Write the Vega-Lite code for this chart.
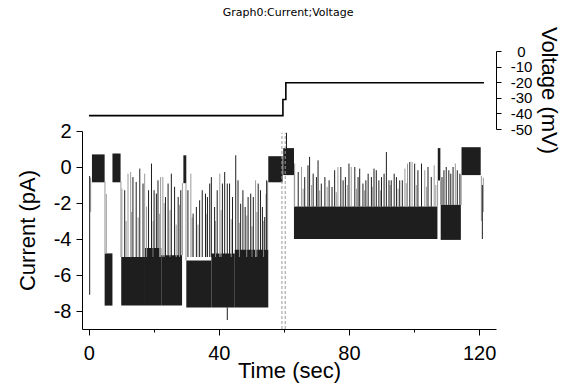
{
  "$schema": "https://vega.github.io/schema/vega-lite/v6.json",
  "padding": {"left": 16, "top": 7, "right": 5, "bottom": 2},
  "background": "white",
  "title": {"text": "Graph0:Current;Voltage", "fontSize": 11, "font": "DejaVu Sans", "fontWeight": "normal", "color": "#000", "offset": 8, "anchor": "middle"},
  "config": {
    "view": {"stroke": null},
    "font": "Liberation Sans",
    "axis": {"domainColor": "#000", "tickColor": "#000", "labelColor": "#000", "titleColor": "#000", "grid": false, "labelFont": "Liberation Sans", "titleFont": "Liberation Sans", "titleFontWeight": "normal", "labelOverlap": false, "labelSeparation": -40, "labelFlush": false},
    "axisY": {"labelOverlap": false, "labelSeparation": -40}
  },
  "datasets": {
    "volt": [
      {"i": 0, "t": 0.1, "v": -41.4},
      {"i": 1, "t": 59.7, "v": -41.4},
      {"i": 2, "t": 59.7, "v": -31.1},
      {"i": 3, "t": 60.6, "v": -31.1},
      {"i": 4, "t": 60.6, "v": -20.4},
      {"i": 5, "t": 121.5, "v": -20.4}
    ],
    "band": [
      {"t0": 4.9, "t1": 7.3, "lo": -7.7, "hi": -4.8},
      {"t0": 10.0, "t1": 17.3, "lo": -7.7, "hi": -5.0},
      {"t0": 17.3, "t1": 22.3, "lo": -7.7, "hi": -4.5},
      {"t0": 22.3, "t1": 28.7, "lo": -7.7, "hi": -4.9},
      {"t0": 30.0, "t1": 37.7, "lo": -7.8, "hi": -5.2},
      {"t0": 37.7, "t1": 44.9, "lo": -7.8, "hi": -4.8},
      {"t0": 44.9, "t1": 55.2, "lo": -7.8, "hi": -4.6},
      {"t0": 63.1, "t1": 107.2, "lo": -4.0, "hi": -2.2},
      {"t0": 108.2, "t1": 114.4, "lo": -4.05, "hi": -2.1},
      {"t0": 1.0, "t1": 4.9, "lo": -0.85, "hi": 0.7},
      {"t0": 7.3, "t1": 9.8, "lo": -0.85, "hi": 0.75},
      {"t0": 29.1, "t1": 30.0, "lo": -0.9, "hi": 0.65},
      {"t0": 55.2, "t1": 59.6, "lo": -0.85, "hi": 0.6},
      {"t0": 59.8, "t1": 63.1, "lo": -0.45, "hi": 1.05},
      {"t0": 107.3, "t1": 108.1, "lo": -0.75, "hi": 1.05},
      {"t0": 114.6, "t1": 120.5, "lo": -0.45, "hi": 1.1}
    ],
    "dark": [
      {"t": 0.3, "lo": -7.1, "hi": -0.5},
      {"t": 121.0, "lo": -4.0, "hi": -1.0},
      {"t": 60.8, "lo": 0.5, "hi": 1.9},
      {"t": 11.07, "lo": -5, "hi": -1.29}, {"t": 13.6, "lo": -5, "hi": -0.56}, {"t": 14.6, "lo": -5, "hi": -0.83},
      {"t": 15.7, "lo": -5, "hi": -0.09}, {"t": 16.7, "lo": -5, "hi": -0.92}, {"t": 18.4, "lo": -5, "hi": -1.29},
      {"t": 19.3, "lo": -5, "hi": 0.19}, {"t": 20.1, "lo": -5, "hi": -1.29}, {"t": 20.8, "lo": -5, "hi": -1.48},
      {"t": 21.3, "lo": -5, "hi": -0.74}, {"t": 23.6, "lo": -5, "hi": -1.67}, {"t": 24.4, "lo": -5, "hi": -0.92},
      {"t": 25.4, "lo": -5, "hi": -0.37}, {"t": 26.4, "lo": -5, "hi": -1.1}, {"t": 27.5, "lo": -5, "hi": -1.67},
      {"t": 28.3, "lo": -5, "hi": -1.29},
      {"t": 30.5, "lo": -5, "hi": -1.29}, {"t": 32.1, "lo": -5, "hi": -2.59}, {"t": 33.1, "lo": -5, "hi": -2.22},
      {"t": 34.1, "lo": -5, "hi": -1.85}, {"t": 34.9, "lo": -5, "hi": -1.29}, {"t": 35.9, "lo": -5, "hi": -1.48},
      {"t": 36.5, "lo": -5, "hi": -1.67}, {"t": 37.2, "lo": -5, "hi": -0.92}, {"t": 37.7, "lo": -5, "hi": -0.56},
      {"t": 38.7, "lo": -5, "hi": -2.22}, {"t": 39.5, "lo": -5, "hi": -1.29}, {"t": 41.1, "lo": -5, "hi": -0.92},
      {"t": 41.8, "lo": -5, "hi": -0.28}, {"t": 42.6, "lo": -5, "hi": -0.92}, {"t": 43.3, "lo": -5, "hi": -0.92},
      {"t": 44.2, "lo": -5, "hi": -1.67}, {"t": 45.2, "lo": -5, "hi": 0.65}, {"t": 45.9, "lo": -5, "hi": -0.74},
      {"t": 46.7, "lo": -5, "hi": -2.04}, {"t": 47.4, "lo": -5, "hi": -1.29}, {"t": 48.1, "lo": -5, "hi": -2.22},
      {"t": 49.0, "lo": -5, "hi": -1.67}, {"t": 49.8, "lo": -5, "hi": -1.48}, {"t": 50.6, "lo": -5, "hi": -1.67},
      {"t": 52.1, "lo": -5, "hi": -0.92}, {"t": 52.8, "lo": -5, "hi": -1.29}, {"t": 53.4, "lo": -5, "hi": -2.22},
      {"t": 54.1, "lo": -5, "hi": -2.78}, {"t": 54.7, "lo": -5, "hi": -0.74},
      {"t": 42.6, "lo": -8.5, "hi": -7.8},
      {"t": 64.4, "lo": -2.2, "hi": -0.28}, {"t": 66.4, "lo": -2.2, "hi": -0.56}, {"t": 67.4, "lo": -2.2, "hi": 0.09},
      {"t": 67.9, "lo": -2.2, "hi": 0.56}, {"t": 69.0, "lo": -2.2, "hi": -0.37}, {"t": 70.0, "lo": -2.2, "hi": -0.56},
      {"t": 70.5, "lo": -2.2, "hi": 0.37}, {"t": 71.5, "lo": -2.2, "hi": -0.92}, {"t": 72.6, "lo": -2.2, "hi": -0.56},
      {"t": 73.9, "lo": -2.2, "hi": -0.74}, {"t": 74.8, "lo": -2.2, "hi": -1.11}, {"t": 75.6, "lo": -2.2, "hi": -0.18},
      {"t": 77.5, "lo": -2.2, "hi": 0.0}, {"t": 78.2, "lo": -2.2, "hi": -0.74}, {"t": 78.9, "lo": -2.2, "hi": -0.56},
      {"t": 80.0, "lo": -2.2, "hi": 0.19}, {"t": 81.8, "lo": -2.2, "hi": 0.0}, {"t": 82.8, "lo": -2.2, "hi": -0.56},
      {"t": 83.3, "lo": -2.2, "hi": -0.09}, {"t": 84.3, "lo": -2.2, "hi": -0.92}, {"t": 85.2, "lo": -2.2, "hi": -0.74},
      {"t": 85.9, "lo": -2.2, "hi": -0.37}, {"t": 86.9, "lo": -2.2, "hi": -0.56}, {"t": 87.7, "lo": -2.2, "hi": -0.09},
      {"t": 88.4, "lo": -2.2, "hi": -0.18}, {"t": 89.2, "lo": -2.2, "hi": -0.74}, {"t": 90.0, "lo": -2.2, "hi": -0.56},
      {"t": 90.8, "lo": -2.2, "hi": -0.37}, {"t": 91.5, "lo": -2.2, "hi": 0.83}, {"t": 92.3, "lo": -2.2, "hi": -0.74},
      {"t": 93.0, "lo": -2.2, "hi": -0.74}, {"t": 93.9, "lo": -2.2, "hi": -0.37}, {"t": 94.6, "lo": -2.2, "hi": -0.56},
      {"t": 95.6, "lo": -2.2, "hi": -0.74}, {"t": 96.4, "lo": -2.2, "hi": -0.74}, {"t": 98.7, "lo": -2.2, "hi": 0.28},
      {"t": 100.2, "lo": -2.2, "hi": 0.19}, {"t": 101.2, "lo": -2.2, "hi": -0.18}, {"t": 102.3, "lo": -2.2, "hi": 0.19},
      {"t": 104.3, "lo": -2.2, "hi": 0.0}, {"t": 105.3, "lo": -2.2, "hi": -0.56},
      {"t": 108.6, "lo": -2.1, "hi": -0.56}, {"t": 109.2, "lo": -2.1, "hi": -0.18}, {"t": 109.9, "lo": -2.1, "hi": 0.0},
      {"t": 110.7, "lo": -2.1, "hi": -0.18}, {"t": 111.3, "lo": -2.1, "hi": -0.37}, {"t": 112.0, "lo": -2.1, "hi": 0.0},
      {"t": 113.3, "lo": -2.1, "hi": -0.18}, {"t": 114.1, "lo": -2.1, "hi": -0.37}
    ],
    "light": [
      {"t": 0.6, "lo": -2.5, "hi": -0.6}, {"t": 5.0, "lo": -4.8, "hi": -0.8}, {"t": 5.4, "lo": -4.8, "hi": -1.5},
      {"t": 9.9, "lo": -5.0, "hi": -0.8}, {"t": 10.2, "lo": -5.0, "hi": -1.2}, {"t": 28.8, "lo": -4.9, "hi": -0.9},
      {"t": 29.9, "lo": -5.2, "hi": -0.9}, {"t": 55.0, "lo": -4.6, "hi": -0.8}, {"t": 54.5, "lo": -4.6, "hi": -1.5},
      {"t": 63.2, "lo": -2.2, "hi": -0.45}, {"t": 107.25, "lo": -2.2, "hi": -0.75}, {"t": 108.15, "lo": -2.1, "hi": -0.75},
      {"t": 114.5, "lo": -2.1, "hi": -0.45}, {"t": 120.7, "lo": -3.0, "hi": -0.5}, {"t": 121.3, "lo": -2.5, "hi": -0.6},
      {"t": 12.08, "lo": -5, "hi": -0.37}, {"t": 12.9, "lo": -5, "hi": -0.28}, {"t": 17.2, "lo": -5, "hi": -0.37},
      {"t": 22.1, "lo": -5, "hi": -0.56}, {"t": 22.8, "lo": -5, "hi": -0.56},
      {"t": 11.5, "lo": -5, "hi": -3.0}, {"t": 13.2, "lo": -5, "hi": -2.5}, {"t": 15.2, "lo": -5, "hi": -2.8},
      {"t": 17.8, "lo": -5, "hi": -2.2}, {"t": 19.8, "lo": -5, "hi": -3.0}, {"t": 21.8, "lo": -5, "hi": -2.6},
      {"t": 23.2, "lo": -5, "hi": -2.0}, {"t": 25.0, "lo": -5, "hi": -2.4}, {"t": 26.9, "lo": -5, "hi": -3.2},
      {"t": 27.9, "lo": -5, "hi": -2.1},
      {"t": 31.4, "lo": -5, "hi": -0.37}, {"t": 40.3, "lo": -5, "hi": -0.37}, {"t": 51.3, "lo": -5, "hi": -0.74},
      {"t": 31.8, "lo": -5, "hi": -2.8}, {"t": 33.6, "lo": -5, "hi": -3.2}, {"t": 36.1, "lo": -5, "hi": -2.6},
      {"t": 39.0, "lo": -5, "hi": -3.0}, {"t": 40.7, "lo": -5, "hi": -2.4}, {"t": 43.8, "lo": -5, "hi": -2.9},
      {"t": 46.3, "lo": -5, "hi": -3.1}, {"t": 48.6, "lo": -5, "hi": -2.7}, {"t": 50.2, "lo": -5, "hi": -3.3},
      {"t": 51.7, "lo": -5, "hi": -2.5}, {"t": 53.8, "lo": -5, "hi": -3.0},
      {"t": 63.3, "lo": -2.2, "hi": 0.19}, {"t": 65.4, "lo": -2.2, "hi": 0.0}, {"t": 76.6, "lo": -2.2, "hi": 0.0},
      {"t": 80.7, "lo": -2.2, "hi": 0.0}, {"t": 97.2, "lo": -2.2, "hi": -0.09}, {"t": 98.0, "lo": -2.2, "hi": 0.19},
      {"t": 99.4, "lo": -2.2, "hi": 0.28}, {"t": 103.3, "lo": -2.2, "hi": -0.18}, {"t": 106.2, "lo": -2.2, "hi": 0.09},
      {"t": 65.9, "lo": -2.2, "hi": -1.2}, {"t": 68.5, "lo": -2.2, "hi": -1.0}, {"t": 71.0, "lo": -2.2, "hi": -1.3},
      {"t": 73.3, "lo": -2.2, "hi": -1.1}, {"t": 76.1, "lo": -2.2, "hi": -1.4}, {"t": 79.5, "lo": -2.2, "hi": -1.0},
      {"t": 82.3, "lo": -2.2, "hi": -1.2}, {"t": 84.8, "lo": -2.2, "hi": -1.3}, {"t": 87.2, "lo": -2.2, "hi": -1.1},
      {"t": 89.7, "lo": -2.2, "hi": -1.3}, {"t": 92.7, "lo": -2.2, "hi": -1.0}, {"t": 95.1, "lo": -2.2, "hi": -1.2},
      {"t": 97.6, "lo": -2.2, "hi": -0.9}, {"t": 100.7, "lo": -2.2, "hi": -1.0}, {"t": 103.8, "lo": -2.2, "hi": -1.1},
      {"t": 106.7, "lo": -2.2, "hi": -1.0}, {"t": 112.7, "lo": -2.1, "hi": 0.19}
    ],
    "trans": [
      {"t": 59.4, "lo": -9, "hi": 1.9},
      {"t": 60.4, "lo": -9, "hi": 1.9}
    ]
  },
  "spacing": 2,
  "bounds": "flush",
  "vconcat": [
    {
      "width": 414,
      "height": 78,
      "data": {"name": "volt"},
      "mark": {"type": "line", "color": "#000", "strokeWidth": 1.6},
      "encoding": {
        "x": {"field": "t", "type": "quantitative", "scale": {"domain": [-2.06, 125.2], "nice": false, "zero": false}, "axis": null},
        "y": {"field": "v", "type": "quantitative", "scale": {"domain": [-50, 0], "nice": false},
          "axis": {"orient": "right", "values": [0, -10, -20, -30, -40, -50], "labelExpr": "datum.value + ''", "labelOverlap": false, "tickSize": 5, "labelFontSize": 15, "labelAlign": "center", "labelPadding": 20, "title": "Voltage (mV)", "titleFontSize": 22, "titlePadding": 5}},
        "order": {"field": "i", "type": "quantitative"}
      }
    },
    {
      "width": 414,
      "height": 198,
      "layer": [
        {
          "data": {"name": "band"},
          "mark": {"type": "rect", "color": "#1e1e1e"},
          "encoding": {
            "x": {"field": "t0", "type": "quantitative", "scale": {"domain": [-2.06, 125.2], "nice": false, "zero": false},
              "axis": {"values": [0, 20, 40, 60, 80, 100, 120], "labelExpr": "datum.value % 40 === 0 ? datum.value + '' : ''", "labelOverlap": false, "tickSize": {"condition": {"test": "datum.value % 40 === 0", "value": 6}, "value": 3}, "labelFontSize": 20, "labelPadding": 8, "title": "Time (sec)", "titleFontSize": 22, "titlePadding": -3}},
            "x2": {"field": "t1"},
            "y": {"field": "lo", "type": "quantitative", "scale": {"domain": [-9, 2], "nice": false, "zero": false},
              "axis": {"values": [2, 0, -2, -4, -6, -8], "labelExpr": "datum.value + ''", "labelOverlap": false, "labelSeparation": -40, "tickSize": 6, "labelFontSize": 20, "labelPadding": 5, "title": "Current (pA)", "titleFontSize": 22, "titlePadding": 14}},
            "y2": {"field": "hi"}
          }
        },
        {
          "data": {"name": "light"},
          "mark": {"type": "rule", "color": "#9a9a9a", "strokeWidth": 1},
          "encoding": {
            "x": {"field": "t", "type": "quantitative"},
            "y": {"field": "lo", "type": "quantitative", "axis": {"values": [2, 0, -2, -4, -6, -8], "labelExpr": "datum.value + ''", "labelOverlap": false, "labelSeparation": -40, "tickSize": 6, "labelFontSize": 20, "labelPadding": 5, "title": "Current (pA)", "titleFontSize": 22, "titlePadding": 14}},
            "y2": {"field": "hi"}
          }
        },
        {
          "data": {"name": "dark"},
          "mark": {"type": "rule", "color": "#1e1e1e", "strokeWidth": 1},
          "encoding": {
            "x": {"field": "t", "type": "quantitative"},
            "y": {"field": "lo", "type": "quantitative", "axis": {"values": [2, 0, -2, -4, -6, -8], "labelExpr": "datum.value + ''", "labelOverlap": false, "labelSeparation": -40, "tickSize": 6, "labelFontSize": 20, "labelPadding": 5, "title": "Current (pA)", "titleFontSize": 22, "titlePadding": 14}},
            "y2": {"field": "hi"}
          }
        },
        {
          "data": {"name": "trans"},
          "mark": {"type": "rule", "color": "#999", "strokeWidth": 1, "strokeDash": [3, 2]},
          "encoding": {
            "x": {"field": "t", "type": "quantitative"},
            "y": {"field": "lo", "type": "quantitative", "axis": {"values": [2, 0, -2, -4, -6, -8], "labelExpr": "datum.value + ''", "labelOverlap": false, "labelSeparation": -40, "tickSize": 6, "labelFontSize": 20, "labelPadding": 5, "title": "Current (pA)", "titleFontSize": 22, "titlePadding": 14}},
            "y2": {"field": "hi"}
          }
        }
      ]
    }
  ]
}
